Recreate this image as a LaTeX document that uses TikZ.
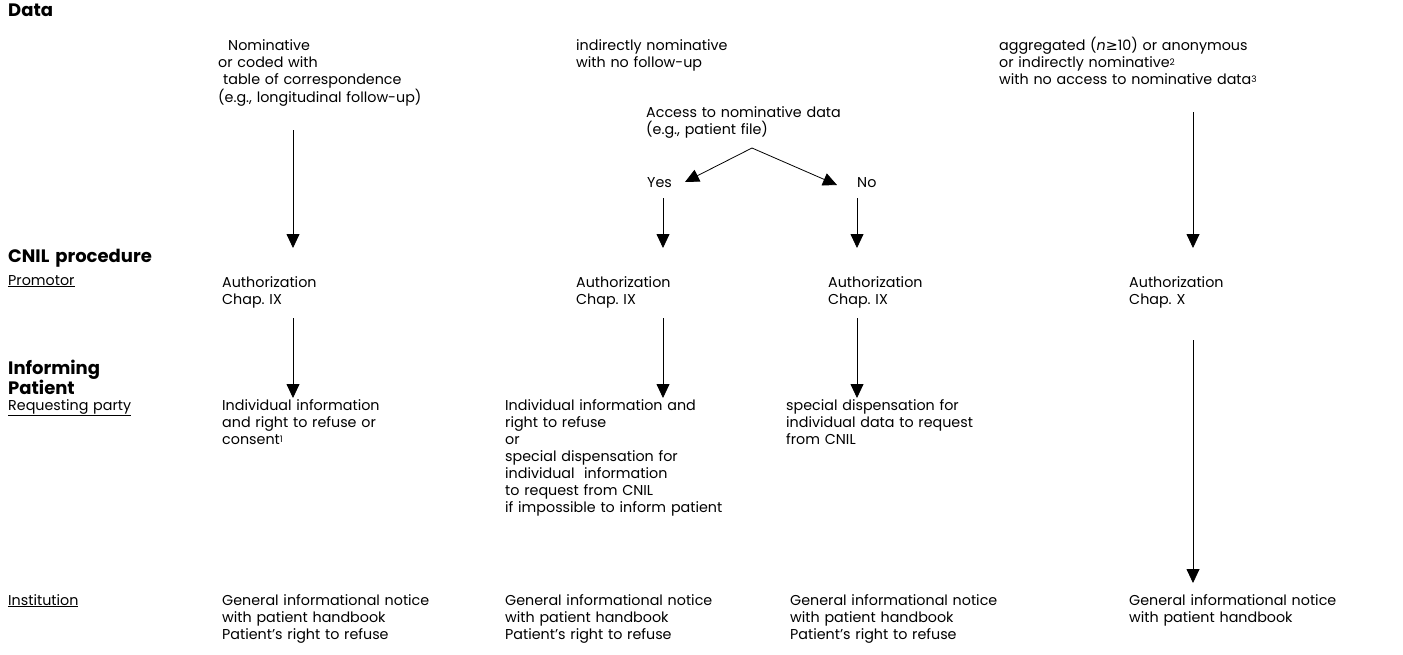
\documentclass[tikz,border=0pt]{standalone}
\usepackage{fontspec}
\setmainfont{Poppins}
\newfontfamily\symfont{DejaVu Sans}
\usetikzlibrary{arrows.meta,calc}
\frenchspacing
\newcommand{\fnmark}[1]{\raisebox{0.15ex}{\fontsize{9}{9}\selectfont #1}}

\begin{document}
\begin{tikzpicture}[x=1pt,y=-1pt,
    txt/.style={anchor=base west,inner sep=0pt,align=left,text width=330pt,font=\fontsize{14.3}{17}\selectfont},
    head/.style={txt,font=\fontsize{18}{18.5}\selectfont\bfseries},
    arr/.style={-{Triangle[width=13pt,length=14pt]},line width=0.8pt}]
    \useasboundingbox (0,0) rectangle (1403,654);

    % Row labels
    \node[head] (data) at (8,16) {Data};
    \node[head] (cnil) at (8,262) {CNIL procedure};
    \node[txt] (promotor) at (8,285) {\underline{Promotor}};
    \node[head] (inform) at (8,374) {Informing\\Patient};
    \node[txt] (request) at (8,410) {\underline{Requesting party}};
    \node[txt] (institution) at (8,605) {\underline{Institution}};

    % Data
    \node[txt] (nom) at (218,50) {\hspace{10pt}Nominative\\or coded with\\\hspace{5pt}table of correspondence\\(e.g., longitudinal follow-up)};
    \node[txt] (indirect) at (576,50) {indirectly nominative\\with no follow-up};
    \node[txt] (access) at (646,117) {Access to nominative data\\(e.g., patient file)};
    \node[txt,text width=40pt] (yes) at (647,187) {Yes};
    \node[txt,text width=40pt] (no) at (857,187) {No};
    \node[txt] (aggr) at (999,50) {aggregated (\textit{n}{\symfont ≥}10) or anonymous\\or indirectly nominative\fnmark{2}\\with no access to nominative data\fnmark{3}};
    \coordinate (split) at (752,148);

    % CNIL procedure
    \node[txt] (auth1) at (222,287) {Authorization\\Chap. IX};
    \node[txt] (auth2) at (576,287) {Authorization\\Chap. IX};
    \node[txt] (auth3) at (828,287) {Authorization\\Chap. IX};
    \node[txt] (auth4) at (1129,287) {Authorization\\Chap. X};

    % Informing patient
    \node[txt] (indiv1) at (222,410) {Individual information\\and right to refuse or\\consent\fnmark{1}};
    \node[txt] (indiv2) at (505,410) {Individual information and\\right to refuse\\or\\special dispensation for\\individual\ \ information\\to request from CNIL\\if impossible to inform patient};
    \node[txt] (indiv3) at (786,410) {special dispensation for\\individual data to request\\from CNIL};

    % Institution
    \node[txt] (notice1) at (222,605) {General informational notice\\with patient handbook\\Patient's right to refuse};
    \node[txt] (notice2) at (505,605) {General informational notice\\with patient handbook\\Patient's right to refuse};
    \node[txt] (notice3) at (790,605) {General informational notice\\with patient handbook\\Patient's right to refuse};
    \node[txt] (notice4) at (1129,605) {General informational notice\\with patient handbook};

    % Column x positions
    \coordinate (x1) at (293,0);
    \coordinate (x2) at (663,0);
    \coordinate (x3) at (857,0);
    \coordinate (x4) at (1193,0);

    % Arrows
    \draw[arr] (x1 |- 0,130) -- (x1 |- 0,248);
    \draw[arr] (split) -- (685,182);
    \draw[arr] (split) -- (837,185);
    \draw[arr] (x2 |- 0,198) -- (x2 |- 0,248);
    \draw[arr] (x3 |- 0,198) -- (x3 |- 0,248);
    \draw[arr] (x4 |- 0,112) -- (x4 |- 0,248);
    \draw[arr] (x1 |- 0,318) -- (x1 |- 0,398);
    \draw[arr] (x2 |- 0,318) -- (x2 |- 0,398);
    \draw[arr] (x3 |- 0,318) -- (x3 |- 0,398);
    \draw[arr] (x4 |- 0,340) -- (x4 |- 0,583);
\end{tikzpicture}
\end{document}
